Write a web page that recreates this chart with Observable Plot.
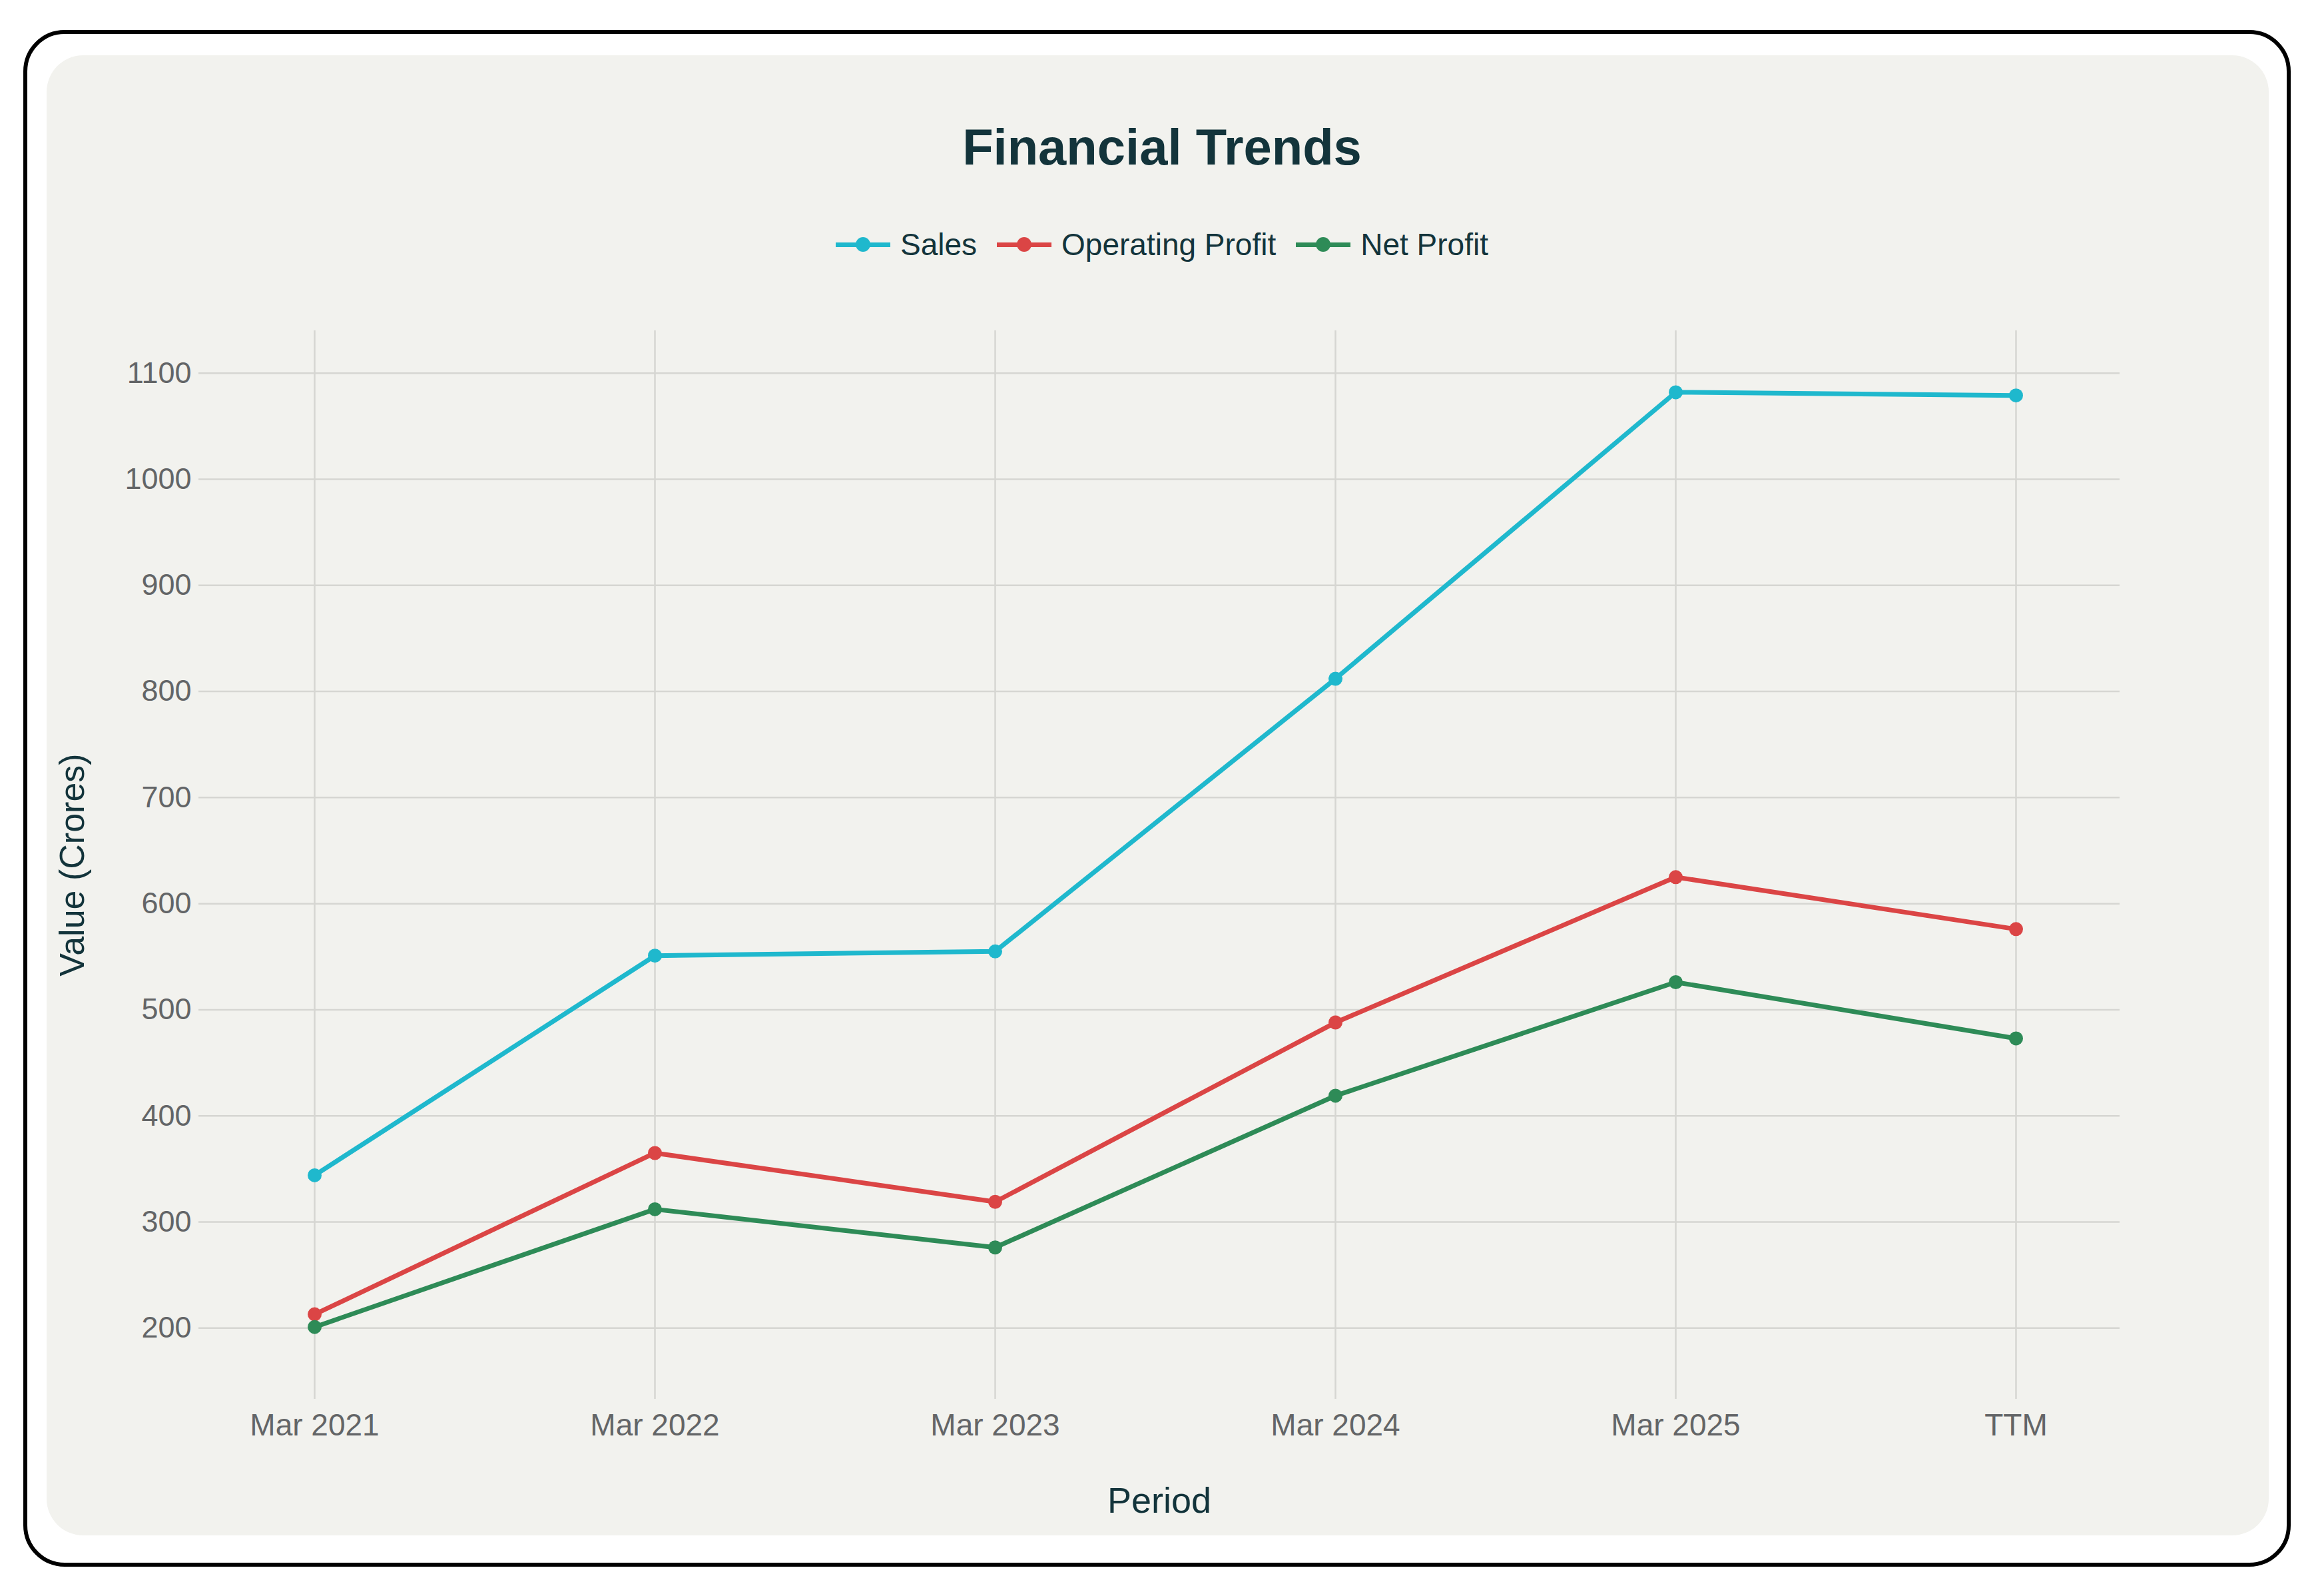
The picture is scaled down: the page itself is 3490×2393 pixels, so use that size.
<!DOCTYPE html>
<html>
<head>
<meta charset="utf-8">
<script src="https://cdn.jsdelivr.net/npm/d3@7"></script>
<script src="https://cdn.jsdelivr.net/npm/@observablehq/plot@0.6"></script>
<style>
  html, body { margin: 0; padding: 0; background: #ffffff; }
  body { width: 3490px; height: 2393px; position: relative; overflow: hidden; font-family: "Liberation Sans", Arial, sans-serif; }
  .frame { position: absolute; left: 35px; top: 45px; width: 3405px; height: 2307px; box-sizing: border-box; border: 6px solid #000; border-radius: 62px; }
  .panel { position: absolute; left: 70px; top: 83px; width: 3337px; height: 2222px; background: #f2f2ee; border-radius: 55px; }
  .title { position: absolute; left: 0; width: 3490px; top: 183px; text-align: center; font-size: 76px; line-height: 1; font-weight: bold; color: #13343B; }
  .legend { position: absolute; left: 0; width: 3490px; top: 344px; display: flex; justify-content: center; font-size: 46px; line-height: 1; color: #13343B; }
  .item { display: flex; align-items: center; margin: 0 15px; }
  .sw { position: relative; width: 82px; height: 46px; margin-right: 15px; }
  .sw .ln { position: absolute; left: 0; right: 0; top: 19.5px; height: 7px; }
  .sw .dt { position: absolute; left: 30px; top: 12px; width: 22px; height: 22px; border-radius: 50%; }
  #chart { position: absolute; left: 0; top: 430px; }
</style>
</head>
<body>
<div class="frame"></div>
<div class="panel"></div>
<div class="title" id="title"></div>
<div class="legend" id="legend"></div>
<div id="chart"></div>
<script>
const chartTitle = "Financial Trends";
const periods = ["Mar 2021", "Mar 2022", "Mar 2023", "Mar 2024", "Mar 2025", "TTM"];
const sales = [344, 551, 555, 812, 1082, 1079];
const operatingProfit = [213, 365, 319, 488, 625, 576];
const netProfit = [201, 312, 276, 419, 526, 473];
const seriesNames = ["Sales", "Operating Profit", "Net Profit"];
const seriesColors = ["#1FB8CD", "#DB4545", "#2E8B57"];
const yTicks = [200, 300, 400, 500, 600, 700, 800, 900, 1000, 1100];
const xLabel = "Period";
const yLabel = "Value (Crores)";

const seriesValues = [sales, operatingProfit, netProfit];
const data = [];
seriesNames.forEach((name, si) => {
  periods.forEach((p, i) => data.push({series: name, period: p, value: seriesValues[si][i]}));
});

document.getElementById("title").textContent = chartTitle;
const legend = document.getElementById("legend");
seriesNames.forEach((name, i) => {
  const item = document.createElement("div");
  item.className = "item";
  const sw = document.createElement("div");
  sw.className = "sw";
  const ln = document.createElement("div"); ln.className = "ln"; ln.style.background = seriesColors[i];
  const dt = document.createElement("div"); dt.className = "dt"; dt.style.background = seriesColors[i];
  sw.appendChild(ln); sw.appendChild(dt);
  const tx = document.createElement("span"); tx.textContent = name;
  item.appendChild(sw); item.appendChild(tx);
  legend.appendChild(item);
});

const gridColor = "#d6d6d2";
const tickColor = "#636567";
const labelColor = "#13343B";

const chart = Plot.plot({
  width: 3490,
  height: 1880,
  marginTop: 66,
  marginBottom: 210,
  marginLeft: 298,
  marginRight: 307,
  style: {background: "transparent", fontFamily: "Liberation Sans, Arial, sans-serif", overflow: "visible"},
  x: {type: "point", domain: periods, padding: 0, insetLeft: 174, insetRight: 156},
  y: {domain: [133, 1140]},
  color: {domain: seriesNames, range: seriesColors},
  marks: [
    Plot.gridY(yTicks, {stroke: gridColor, strokeOpacity: 1, strokeWidth: 2.5}),
    Plot.gridX(periods, {stroke: gridColor, strokeOpacity: 1, strokeWidth: 2.5}),
    Plot.axisY(yTicks, {tickSize: 0, tickPadding: 11, tickFormat: (d) => String(d), fontSize: 45, fill: tickColor, label: null}),
    Plot.axisY([], {tickSize: 0, label: yLabel, labelAnchor: "center", labelOffset: 209, labelArrow: "none", fontSize: 52, fill: labelColor}),
    Plot.axisX(periods, {tickSize: 0, tickPadding: 22, fontSize: 46, fill: tickColor, label: null}),
    Plot.axisX([], {tickSize: 0, label: xLabel, labelAnchor: "center", labelOffset: 170, labelArrow: "none", fontSize: 54, fill: labelColor}),
    Plot.line(data, {x: "period", y: "value", z: "series", stroke: "series", strokeWidth: 7, strokeLinejoin: "round"}),
    Plot.dot(data, {x: "period", y: "value", fill: "series", r: 10.5})
  ]
});
document.getElementById("chart").appendChild(chart);
</script>
</body>
</html>
